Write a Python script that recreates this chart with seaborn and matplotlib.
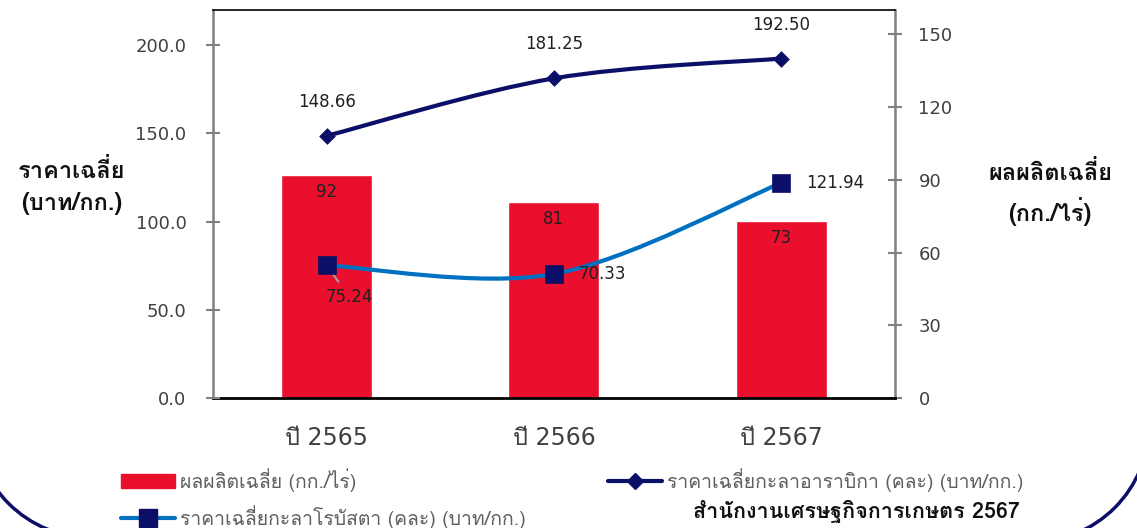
import numpy as np
import matplotlib
matplotlib.use("Agg")
import matplotlib.pyplot as plt
import seaborn as sns
from matplotlib import font_manager, ft2font
from matplotlib.path import Path
from matplotlib.patches import PathPatch, Patch, Arc
from matplotlib.lines import Line2D

# ---------------- data ----------------
years = ["ปี 2565", "ปี 2566", "ปี 2567"]
yield_kg_rai = [92, 81, 73]                 # bars, right axis
arabica_price = [148.66, 181.25, 192.50]    # left axis
robusta_price = [75.24, 70.33, 121.94]      # left axis

left_ticks = [0, 50, 100, 150, 200]
right_ticks = [0, 30, 60, 90, 120, 150]

# ---------------- fonts ----------------
sns.set_theme(style="white")
thai_font = None
for f in font_manager.fontManager.ttflist:
    try:
        if 0x0E01 in ft2font.FT2Font(f.fname).get_charmap():
            thai_font = f.name
            break
    except Exception:
        pass
THAI = ([thai_font] if thai_font else []) + ["DejaVu Sans"]
NUM = ["DejaVu Sans"] + ([thai_font] if thai_font else [])
plt.rcParams["font.family"] = THAI

RED = "#EA0F2D"
NAVY = "#0C0F68"
BLUE = "#0070C0"
GREY = "#808080"
TXT = "#404040"

fig = plt.figure(figsize=(11.37, 5.28), dpi=100)

# decorative rounded frame corners
bg = fig.add_axes([0, 0, 1, 1], zorder=0)
bg.set_xlim(0, 1137)
bg.set_ylim(528, 0)
bg.axis("off")
bg.add_patch(Arc((92, 420), 236, 236, theta1=90, theta2=180, color=NAVY, lw=2.5))
bg.add_patch(Arc((1032, 425), 234, 234, theta1=0, theta2=90, color=NAVY, lw=2.5))

ax_bar = fig.add_axes([0.1873, 0.2462, 0.5997, 0.7348], zorder=1)
ax_bar.patch.set_alpha(0)
pos = np.arange(len(years))
sns.barplot(x=pos, y=yield_kg_rai, ax=ax_bar, color=RED, width=0.4,
            saturation=1, native_scale=True)
ax_bar.set_xlim(-0.5, 2.5)
ax_bar.set_ylim(0, 160)
ax_bar.set_xlabel("")
ax_bar.set_ylabel("")

ax_line = ax_bar.twinx()
ax_line.set_zorder(2)
ax_line.patch.set_alpha(0)

# right axis (bars)
ax_bar.yaxis.tick_right()
ax_bar.set_yticks(right_ticks)
ax_bar.set_yticklabels([str(t) for t in right_ticks], fontfamily=NUM)
ax_bar.tick_params(axis="y", which="both", left=False, right=True, labelleft=False,
                   labelright=True, direction="inout", length=10, width=1.5,
                   color=GREY, labelcolor=TXT, labelsize=13, pad=12)
ax_bar.set_xticks(pos)
ax_bar.set_xticklabels(years, fontsize=17, color=TXT, fontfamily=NUM)
ax_bar.tick_params(axis="x", length=0, pad=20)
for s in ["left", "right"]:
    ax_bar.spines[s].set_color(GREY)
    ax_bar.spines[s].set_linewidth(1.8)
ax_bar.spines["top"].set_color("black")
ax_bar.spines["top"].set_linewidth(1.2)
ax_bar.spines["bottom"].set_color("black")
ax_bar.spines["bottom"].set_linewidth(2)

for x, v in zip(pos, yield_kg_rai):
    ax_bar.annotate(f"{v}", xy=(x, v), xytext=(0, -17), textcoords="offset pixels",
                    ha="center", va="center", fontsize=12, color="#202020",
                    fontfamily=NUM)

# left axis (prices)
ax_line.yaxis.tick_left()
ax_line.set_ylim(0, 220)
ax_line.set_xlim(-0.5, 2.5)
ax_line.set_yticks(left_ticks)
ax_line.set_yticklabels([f"{t:.1f}" for t in left_ticks], fontfamily=NUM)
ax_line.tick_params(axis="y", left=True, right=False, labelleft=True, labelright=False,
                    direction="inout", length=10, width=1.5,
                    color=GREY, labelcolor=TXT, labelsize=13, pad=14)
for s in ax_line.spines.values():
    s.set_visible(False)


def smooth_path(xs, ys):
    pts = np.column_stack([xs, ys]).astype(float)
    n = len(pts)
    verts = [pts[0]]
    codes = [Path.MOVETO]
    for i in range(n - 1):
        p0 = pts[i - 1] if i > 0 else pts[i]
        p1, p2 = pts[i], pts[i + 1]
        p3 = pts[i + 2] if i + 2 < n else pts[i + 1]
        verts += [p1 + (p2 - p0) / 6, p2 - (p3 - p1) / 6, p2]
        codes += [Path.CURVE4] * 3
    return Path(verts, codes)


ax_line.add_patch(PathPatch(smooth_path(pos, arabica_price), fill=False,
                            ec=NAVY, lw=3, capstyle="round", zorder=3))
ax_line.add_patch(PathPatch(smooth_path(pos, robusta_price), fill=False,
                            ec=BLUE, lw=3, capstyle="round", zorder=3))
sns.scatterplot(x=pos, y=arabica_price, ax=ax_line, marker="D", s=64,
                color=NAVY, edgecolor=NAVY, linewidth=0.5, zorder=4, legend=False)
sns.scatterplot(x=pos, y=robusta_price, ax=ax_line, marker="s", s=156,
                color=NAVY, edgecolor=NAVY, linewidth=0.5, zorder=4, legend=False)
ax_line.set_xlabel("")
ax_line.set_ylabel("")

for x, v in zip(pos, arabica_price):
    ax_line.annotate(f"{v:.2f}", xy=(x, v), xytext=(0, 34), textcoords="offset pixels",
                     ha="center", va="center", fontsize=12, color="#202020",
                     fontfamily=NUM)

ax_line.annotate(f"{robusta_price[0]:.2f}", xy=(pos[0], robusta_price[0]),
                 xytext=(23, -32), textcoords="offset pixels",
                 ha="center", va="center", fontsize=12, color="#202020", fontfamily=NUM,
                 arrowprops=dict(arrowstyle="-", color="#A0A0A0", lw=1.5,
                                 shrinkA=3, shrinkB=3))
for i in (1, 2):
    ax_line.annotate(f"{robusta_price[i]:.2f}", xy=(pos[i], robusta_price[i]),
                     xytext=(25, 0), textcoords="offset pixels",
                     ha="left", va="center", fontsize=12, color="#202020",
                     fontfamily=NUM)

# axis titles
fig.text(72 / 1137, 1 - 187 / 528, "ราคาเฉลี่ย\n(บาท/กก.)", ha="center", va="center",
         fontsize=17, fontweight="bold", color="#101010", linespacing=1.5)
fig.text(1050 / 1137, 1 - 193 / 528, "ผลผลิตเฉลี่ย\n(กก./ไร่)", ha="center", va="center",
         fontsize=17, fontweight="bold", color="#101010", linespacing=1.5)

# legends
h_bar = Patch(facecolor=RED, edgecolor=RED)
h_rob = Line2D([], [], color=BLUE, lw=3, marker="s", ms=12.5, mfc=NAVY, mec=NAVY)
h_ara = Line2D([], [], color=NAVY, lw=3, marker="D", ms=8, mfc=NAVY, mec=NAVY)
leg_prop = dict(family=THAI, size=14)
leg1 = fig.legend([h_bar, h_rob],
                  ["ผลผลิตเฉลี่ย (กก./ไร่)", "ราคาเฉลี่ยกะลาโรบัสตา (คละ) (บาท/กก.)"],
                  loc="upper left", bbox_to_anchor=(121 / 1137, 1 - 468 / 528),
                  frameon=False, prop=leg_prop, handlelength=2.8, handleheight=0.75,
                  handletextpad=0.25, labelspacing=0.7, borderpad=0, borderaxespad=0,
                  labelcolor="#606060")
leg2 = fig.legend([h_ara], ["ราคาเฉลี่ยกะลาอาราบิกา (คละ) (บาท/กก.)"],
                  loc="upper left", bbox_to_anchor=(608 / 1137, 1 - 468 / 528),
                  frameon=False, prop=leg_prop, handlelength=2.8, handleheight=0.75,
                  handletextpad=0.25, borderpad=0, borderaxespad=0,
                  labelcolor="#606060")

fig.text(856 / 1137, 1 - 511 / 528, "สำนักงานเศรษฐกิจการเกษตร 2567", ha="center",
         va="center", fontsize=15.5, fontweight="bold", color="#101010")

fig.savefig("out.png", dpi=100)
